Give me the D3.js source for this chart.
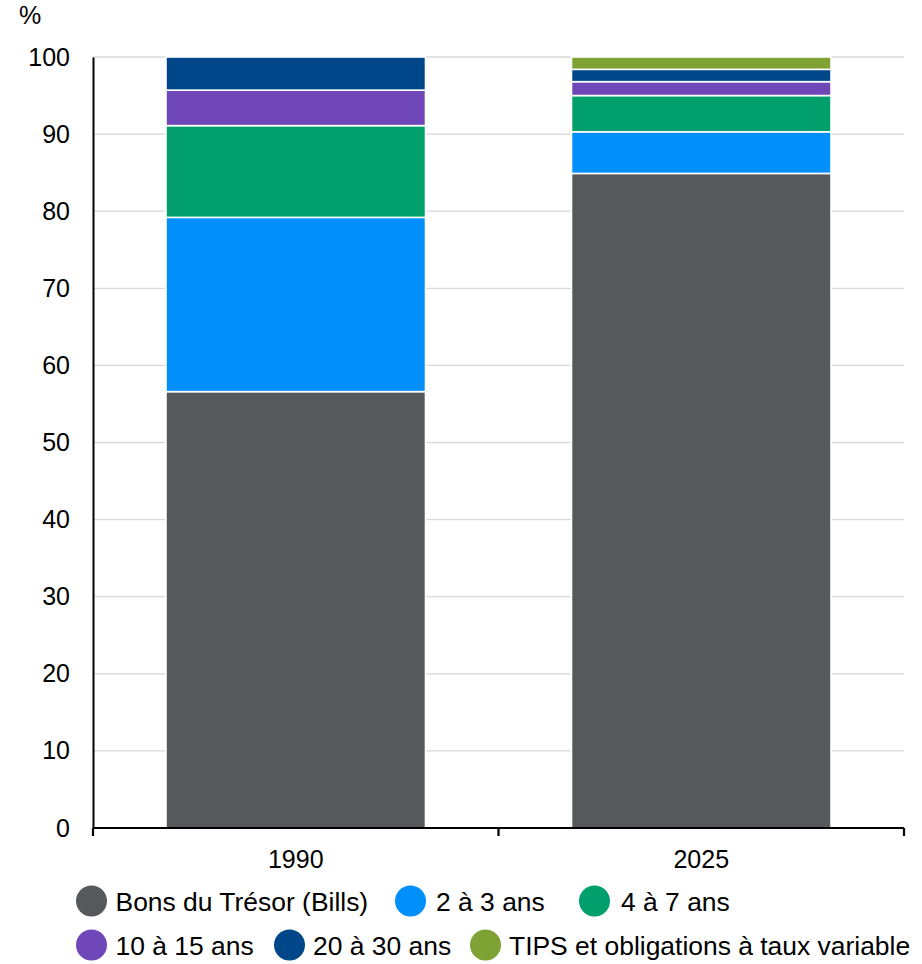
<!DOCTYPE html>
<html><head><meta charset="utf-8">
<script src="https://cdn.jsdelivr.net/npm/d3@7"></script>
<style>
body{margin:0;background:#fff;}
text{font-family:"Liberation Sans",Arial,sans-serif;fill:#000;}
</style></head>
<body><svg id="c" width="922" height="964"></svg>
<script>
const categories = ["1990", "2025"];
const seriesNames = ["Bons du Trésor (Bills)", "2 à 3 ans", "4 à 7 ans", "10 à 15 ans", "20 à 30 ans", "TIPS et obligations à taux variable"];
const bills   = [56.6, 84.9];
const y2to3   = [22.6, 5.4];
const y4to7   = [11.9, 4.7];
const y10to15 = [4.6, 1.8];
const y20to30 = [4.3, 1.6];
const tips    = [0.0, 1.6];
const yTicks = [0, 10, 20, 30, 40, 50, 60, 70, 80, 90, 100];
const colors = ["#56595c", "#008ffb", "#009f6b", "#7047b8", "#00478a", "#7ea234"];

(function () {
const seriesValues = [bills, y2to3, y4to7, y10to15, y20to30, tips];
const keys = seriesNames;
const table = categories.map((c, i) => {
  const row = {cat: c};
  keys.forEach((k, j) => row[k] = seriesValues[j][i]);
  return row;
});

const svg = d3.select("#c");
const mL = 93, mR = 904, mT = 57, mB = 828;
const x = d3.scaleBand().domain(categories).range([mL, mR]).paddingInner(0.36).paddingOuter(0.18);
const y = d3.scaleLinear().domain([0, 100]).range([mB, mT]);

// gridlines
svg.append("g").selectAll("line").data(yTicks.filter(d => d > 0)).join("line")
  .attr("x1", mL).attr("x2", mR)
  .attr("y1", d => y(d)).attr("y2", d => y(d))
  .attr("stroke", "#d9d9d9").attr("stroke-width", 1.3);

// bars
const stack = d3.stack().keys(keys)(table);
svg.append("g").selectAll("g").data(stack).join("g")
  .attr("fill", (d, i) => colors[i])
  .selectAll("rect").data(d => d.filter(p => p[1] - p[0] > 0)).join("rect")
  .attr("x", d => x(d.data.cat))
  .attr("width", x.bandwidth())
  .attr("y", d => y(d[1]))
  .attr("height", d => y(d[0]) - y(d[1]))
  .attr("stroke", "#fff").attr("stroke-width", 1.6);

// y axis
const ya = svg.append("g").attr("transform", `translate(${mL},0)`)
  .call(d3.axisLeft(y).tickValues(yTicks).tickSize(0).tickPadding(23));
ya.select(".domain").attr("stroke", "#000").attr("stroke-width", 2);
ya.selectAll("text").attr("font-size", 25).attr("font-family", "Liberation Sans, Arial, sans-serif").attr("fill", "#000");

// x axis
const xa = svg.append("g").attr("transform", `translate(0,${mB})`)
  .call(d3.axisBottom(x).tickSize(0).tickPadding(22));
xa.select(".domain").remove();
xa.append("line").attr("x1", mL).attr("x2", mR).attr("stroke", "#000").attr("stroke-width", 2.2);
const bounds = [mL, (x("1990") + x.bandwidth() + x("2025")) / 2, mR];
xa.selectAll(".bt").data(bounds).join("line").attr("class", "bt")
  .attr("x1", d => d).attr("x2", d => d).attr("y1", 0).attr("y2", 8)
  .attr("stroke", "#000").attr("stroke-width", 2.2);
xa.selectAll(".tick text").attr("font-size", 25).attr("font-family", "Liberation Sans, Arial, sans-serif").attr("fill", "#000");

// unit label
svg.append("text").attr("x", 19).attr("y", 24).attr("font-size", 25).text("%");

// legend
const legendPos = [
  {cx: 91.5, cy: 901, tx: 115.5, ty: 911},
  {cx: 410.5, cy: 901, tx: 436, ty: 911},
  {cx: 594.5, cy: 901, tx: 621, ty: 911},
  {cx: 91.5, cy: 945, tx: 115.5, ty: 955},
  {cx: 289.5, cy: 945, tx: 313, ty: 955},
  {cx: 485.5, cy: 945, tx: 509, ty: 955}
];
const lg = svg.append("g").selectAll("g").data(keys).join("g");
lg.append("circle").attr("cx", (d, i) => legendPos[i].cx).attr("cy", (d, i) => legendPos[i].cy)
  .attr("r", 15.5).attr("fill", (d, i) => colors[i]);
lg.append("text")
  .attr("transform", (d, i) => `translate(${legendPos[i].tx},${legendPos[i].ty}) scale(1.058,1)`)
  .attr("font-size", 25).text(d => d);
})();
</script></body></html>
